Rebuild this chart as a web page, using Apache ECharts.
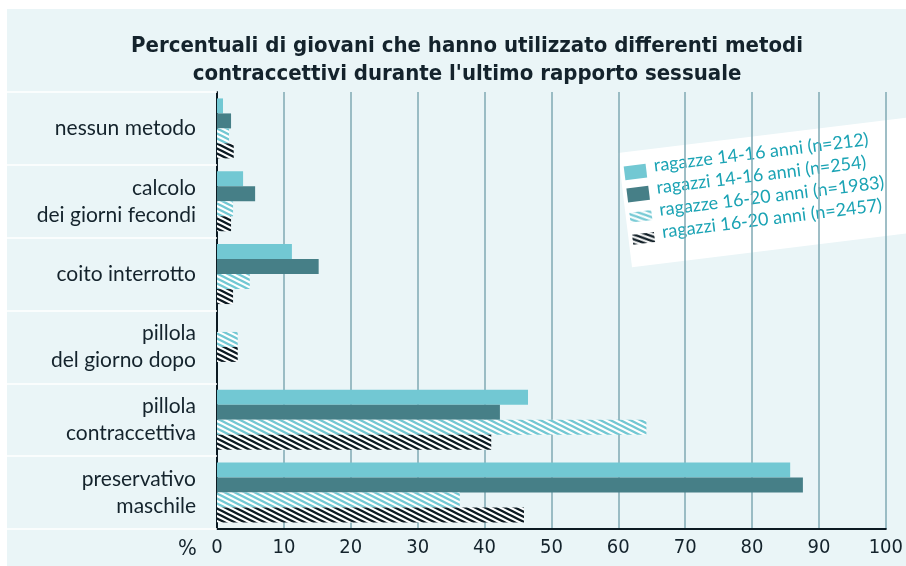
<!DOCTYPE html>
<html>
<head>
<meta charset="utf-8">
<script src="https://cdn.jsdelivr.net/npm/echarts@6/dist/echarts.min.js"></script>
<style>
  html, body { margin: 0; padding: 0; background: #ffffff; }
  #main { width: 906px; height: 566px; }
</style>
</head>
<body>
<div id="main"></div>
<script>
// metodi contraccettivi, valori in %
var categories = [
  'nessun metodo',
  'calcolo\ndei giorni fecondi',
  'coito interrotto',
  'pillola\ndel giorno dopo',
  'pillola\ncontraccettiva',
  'preservativo\nmaschile'
];
var seriesNames = [
  'ragazze 14-16 anni (n=212)',
  'ragazzi 14-16 anni (n=254)',
  'ragazze 16-20 anni (n=1983)',
  'ragazzi 16-20 anni (n=2457)'
];
var ragazze1416 = [0.9, 3.9, 11.2, null, 46.5, 85.7];
var ragazzi1416 = [2.1, 5.7, 15.2, null, 42.3, 87.6];
var ragazze1620 = [1.8, 2.4, 4.9, 3.1, 64.2, 36.3];
var ragazzi1620 = [2.5, 2.1, 2.4, 3.1, 41.0, 45.9];
var xTicks = [0, 10, 20, 30, 40, 50, 60, 70, 80, 90, 100];

var LIGHT = '#72c8d3';
var DARK = '#467f87';
var BLACK = '#0c1a22';
var TEXT = '#14232c';

// tratteggio diagonale
function hatch(color) {
  var c = document.createElement('canvas');
  c.width = 10;
  c.height = 5;
  var ctx = c.getContext('2d');
  ctx.fillStyle = '#ffffff';
  ctx.fillRect(0, 0, 10, 5);
  ctx.strokeStyle = color;
  ctx.lineWidth = 2.4;
  [-5, 0, 5].forEach(function (k) {
    ctx.beginPath();
    ctx.moveTo(-10, -5 + k);
    ctx.lineTo(20, 10 + k);
    ctx.stroke();
  });
  return { image: c, repeat: 'repeat' };
}
var lightHatch = hatch(LIGHT);
var blackHatch = hatch(BLACK);

// la riga "giorno dopo" ha solo due barre, centrate a parte
var ONLY = 3;
function without(arr) {
  return arr.map(function (v, i) { return i === ONLY ? null : v; });
}
function onlyRow(arr) {
  return arr.map(function (v, i) { return i === ONLY ? v : null; });
}

var chart = echarts.init(document.getElementById('main'));

var fills = [LIGHT, DARK, lightHatch, blackHatch];
var legendItems = [];
seriesNames.forEach(function (name, i) {
  var cy = 21 + i * 22.3;
  var h = i < 2 ? 14 : 10;
  legendItems.push({
    type: 'rect',
    shape: { x: 4, y: cy - h / 2, width: 22, height: h },
    style: { fill: fills[i] }
  });
  legendItems.push({
    type: 'text',
    x: 34,
    y: cy - 4,
    style: {
      text: name,
      fill: '#1aa3b4',
      font: '18px Lato',
      verticalAlign: 'middle'
    }
  });
});

var option = {
  backgroundColor: '#ffffff',
  animation: false,
  title: {
    text: 'Percentuali di giovani che hanno utilizzato differenti metodi\ncontraccettivi durante l\'ultimo rapporto sessuale',
    left: 462,
    top: 27,
    textAlign: 'center',
    textStyle: {
      color: TEXT,
      fontFamily: 'DejaVu Sans Condensed',
      fontWeight: 'bold',
      fontSize: 22,
      lineHeight: 28
    }
  },
  grid: {
    left: 217,
    right: 19,
    top: 92,
    bottom: 37
  },
  xAxis: {
    type: 'value',
    min: 0,
    max: 100,
    interval: 10,
    axisLine: { show: true, lineStyle: { color: BLACK, width: 2 } },
    axisTick: { show: false },
    splitLine: { lineStyle: { color: '#7fa9b3', width: 1.5 } },
    axisLabel: {
      margin: 9,
      color: TEXT,
      fontFamily: 'DejaVu Sans Condensed',
      fontSize: 20,
      formatter: function (v) { return xTicks.indexOf(v) >= 0 ? String(v) : ''; }
    }
  },
  yAxis: [{
    type: 'category',
    inverse: true,
    data: categories,
    axisLine: { lineStyle: { color: BLACK, width: 2 } },
    axisTick: { show: true, length: 210, lineStyle: { color: '#ffffff', width: 1.5 } },
    axisLabel: {
      margin: 21,
      color: TEXT,
      fontFamily: 'Lato',
      fontSize: 21,
      lineHeight: 27,
      align: 'right'
    }
  }, {
    type: 'category',
    inverse: true,
    data: categories,
    show: false
  }],
  series: [
    { name: seriesNames[0], type: 'bar', yAxisIndex: 0, data: without(ragazze1416), barWidth: 15, barGap: '0%', itemStyle: { color: LIGHT } },
    { name: seriesNames[1], type: 'bar', yAxisIndex: 0, data: without(ragazzi1416), barWidth: 15, barGap: '0%', itemStyle: { color: DARK } },
    { name: seriesNames[2], type: 'bar', yAxisIndex: 0, data: without(ragazze1620), barWidth: 15, barGap: '0%', itemStyle: { color: lightHatch } },
    { name: seriesNames[3], type: 'bar', yAxisIndex: 0, data: without(ragazzi1620), barWidth: 15, barGap: '0%', itemStyle: { color: blackHatch } },
    { name: seriesNames[2], type: 'bar', yAxisIndex: 1, data: onlyRow(ragazze1620), barWidth: 15, barGap: '0%', itemStyle: { color: lightHatch } },
    { name: seriesNames[3], type: 'bar', yAxisIndex: 1, data: onlyRow(ragazzi1620), barWidth: 15, barGap: '0%', itemStyle: { color: blackHatch } }
  ],
  graphic: [
    {
      type: 'rect',
      z: -10,
      silent: true,
      shape: { x: 7, y: 9, width: 899, height: 557 },
      style: { fill: '#eaf5f7' }
    },
    {
      type: 'text',
      x: 178,
      y: 538,
      style: { text: '%', fill: TEXT, font: '22px "DejaVu Sans Condensed"' }
    },
    {
      type: 'group',
      x: 618,
      y: 153,
      rotation: 7 * Math.PI / 180,
      children: [{
        type: 'rect',
        shape: { x: 0, y: 0, width: 330, height: 115 },
        style: { fill: '#ffffff' }
      }].concat(legendItems)
    }
  ]
};

chart.setOption(option);
</script>
</body>
</html>
